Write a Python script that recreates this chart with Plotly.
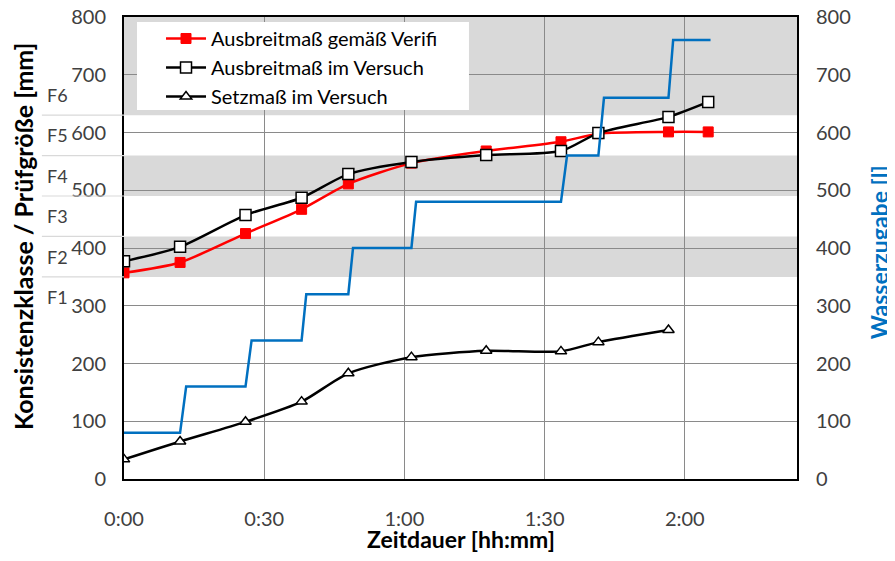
import plotly.graph_objects as go

# Zeit in Minuten
zeit_min = [0, 12, 26, 38, 48, 61.5, 77.5, 93.5, 101.5, 116.5, 125]
ausbreit_verifi = [357, 375, 425, 467, 511, 547, 568, 584, 598, 601, 601]
ausbreit_versuch = [377, 402, 457, 487, 528, 549, 561, 568, 599, 627, 653]
setzmass = [34, 65, 99, 134, 183, 211, 222, 221, 237, 258]

wasser_zeit = [0, 12, 13.3, 26, 27.3, 38, 39, 48, 49, 61.5, 62.5, 93.5, 94.8,
               101.5, 102.7, 116.5, 117.5, 125.5]
wasser_l = [80, 80, 160, 160, 240, 240, 320, 320, 400, 400, 480, 480, 560,
            560, 660, 660, 760, 760]

x_ticks = [0, 30, 60, 90, 120]
x_ticktext = ['0:00', '0:30', '1:00', '1:30', '2:00']

# Konsistenzklassen
klassen = ['F1', 'F2', 'F3', 'F4', 'F5', 'F6']
klassen_grenzen = [350, 420, 490, 560, 630]
graue_baender = [(350, 420), (490, 560), (630, 800)]

FONT = 'Lato'
GRID = '#8a8a8a'
BLUE = '#0070C0'


def main():
    fig = go.Figure()

    fig.add_trace(go.Scatter(
        x=zeit_min, y=ausbreit_verifi, name='Ausbreitmaß gemäß Verifi',
        mode='lines+markers', line=dict(color='#ff0000', width=2.5, shape='spline', smoothing=0.7),
        marker=dict(symbol='square', size=10, color='#ff0000', line=dict(color='#ff0000', width=1))
    ))
    fig.add_trace(go.Scatter(
        x=zeit_min, y=ausbreit_versuch, name='Ausbreitmaß im Versuch',
        mode='lines+markers', line=dict(color='black', width=2.5, shape='spline', smoothing=0.7),
        marker=dict(symbol='square', size=11, color='white', line=dict(color='black', width=1.5))
    ))
    fig.add_trace(go.Scatter(
        x=zeit_min[:len(setzmass)], y=setzmass, name='Setzmaß im Versuch',
        mode='lines+markers', line=dict(color='black', width=2.5, shape='spline', smoothing=0.7),
        marker=dict(symbol='triangle-up', size=10, color='white', line=dict(color='black', width=1.5))
    ))
    fig.add_trace(go.Scatter(
        x=wasser_zeit, y=wasser_l, name='Wasserzugabe', yaxis='y2',
        mode='lines', line=dict(color=BLUE, width=2.5), showlegend=False
    ))

    for y0, y1 in graue_baender:
        fig.add_shape(type='rect', xref='x', yref='y', x0=0, x1=144, y0=y0, y1=y1,
                      fillcolor='#d9d9d9', line=dict(width=0), layer='below')

    # weisser Legendenkasten
    fig.add_shape(type='rect', xref='paper', yref='paper', x0=0.0193, x1=0.5126,
                  y0=0.7987, y1=0.9892, fillcolor='white', line=dict(width=0), layer='above')

    for g in klassen_grenzen:
        fig.add_shape(type='line', xref='paper', yref='y', x0=-0.122, x1=0, y0=g, y1=g,
                      line=dict(color='#d9d9d9', width=1.2))

    for i, k in enumerate(klassen):
        fig.add_annotation(text=k, xref='paper', yref='y', x=-0.117, y=315 + 70 * i,
                           xanchor='left', yanchor='middle', showarrow=False,
                           font=dict(family=FONT, size=18, color='#404040'))

    # Achsentitel
    fig.add_annotation(text='<b>Zeitdauer [hh:mm]</b>',
                       xref='paper', yref='paper', x=0.5007, y=-0.1299,
                       xanchor='center', yanchor='middle', showarrow=False,
                       font=dict(family=FONT, size=23, color='black'))
    fig.add_annotation(text='<b>Konsistenzklasse / Prüfgröße [mm]</b>', textangle=-90,
                       xref='paper', yref='paper', x=-0.150, y=0.524,
                       xanchor='center', yanchor='middle', showarrow=False,
                       font=dict(family=FONT, size=25, color='black'))
    fig.add_annotation(text='<b>Wasserzugabe [l]</b>', textangle=-90,
                       xref='paper', yref='paper', x=1.122, y=0.491,
                       xanchor='center', yanchor='middle', showarrow=False,
                       font=dict(family=FONT, size=23, color=BLUE))

    fig.update_layout(
        width=887, height=545,
        margin=dict(l=116, r=98, t=9, b=74),
        paper_bgcolor='white', plot_bgcolor='white',
        font=dict(family=FONT, size=20, color='#404040'),
        xaxis=dict(range=[0, 144], tickmode='array', tickvals=x_ticks, ticktext=x_ticktext,
                   showgrid=True, gridcolor=GRID, gridwidth=1.2, automargin=False,
                   showline=True, linecolor='black', linewidth=2, mirror=True,
                   zeroline=False, ticks='', ticklabelstandoff=21,
                   tickfont=dict(family=FONT, size=20, color='#404040')),
        yaxis=dict(range=[0, 800], dtick=100, showgrid=True, gridcolor=GRID, gridwidth=1.2,
                   showline=True, linecolor='black', linewidth=2, mirror=True, automargin=False,
                   zeroline=False, ticks='', ticklabelstandoff=12, ticklabeloverflow='allow',
                   tickfont=dict(family=FONT, size=20, color='#404040')),
        yaxis2=dict(range=[0, 800], dtick=100, overlaying='y', side='right', showgrid=False,
                    zeroline=False, ticks='', ticklabelstandoff=18, automargin=False,
                    ticklabeloverflow='allow',
                    tickfont=dict(family=FONT, size=20, color='#404040')),
        legend=dict(x=0.055, y=0.9957, xanchor='left', yanchor='top', bgcolor='rgba(0,0,0,0)',
                    font=dict(family=FONT, size=20, color='black'), itemwidth=40,
                    borderwidth=0),
    )

    fig.write_html('out.html')


if __name__ == '__main__':
    main()
